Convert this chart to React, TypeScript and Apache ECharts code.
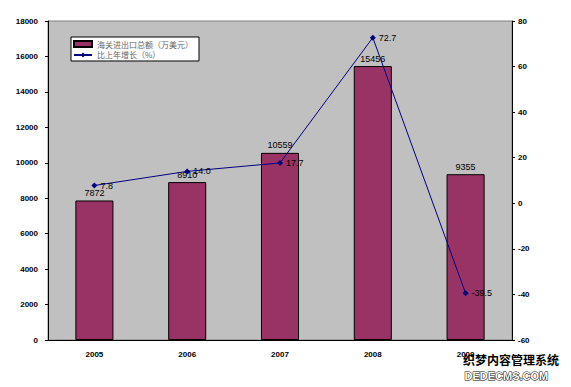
import React, { useEffect, useRef } from "react";
import * as echarts from "echarts";

const categories = ["2005", "2006", "2007", "2008", "2009"];
const tradeTotal = [7872, 8910, 10559, 15456, 9355];
const growth = [7.8, 14.0, 17.7, 72.7, -39.5];
const leftTicks = { min: 0, max: 18000, interval: 2000 };
const rightTicks = { min: -60, max: 80, interval: 20 };
const barName = "海关进出口总额（万美元）";
const lineName = "比上年增长（%）";

export default function App() {
  const ref = useRef<HTMLDivElement>(null);
  useEffect(() => {
    const chart = echarts.init(ref.current!, null, { renderer: "svg" });
    const axisLabel = { fontSize: 8, fontWeight: "bold" as const, color: "#000", fontFamily: "Arial" };
    chart.setOption({
      animation: false,
      backgroundColor: "#fff",
      grid: {
        left: 48, right: 59, top: 21, bottom: 47,
        show: true, backgroundColor: "#c0c0c0", borderColor: "#808080", borderWidth: 1,
      },
      legend: {
        left: 71, top: 37, orient: "vertical", itemGap: 3,
        backgroundColor: "#fff", borderColor: "#000", borderWidth: 1, padding: [3, 6, 2, 2],
        itemWidth: 18, itemHeight: 6,
        textStyle: { fontSize: 8, color: "#666", fontFamily: "Noto Sans CJK SC" },
        data: [
          { name: barName, icon: "rect" },
          { name: lineName },
        ],
      },
      xAxis: {
        type: "category",
        data: categories,
        axisLine: { lineStyle: { color: "#000" } },
        axisTick: { inside: true, length: 3, lineStyle: { color: "#000" } },
        axisLabel: { ...axisLabel, margin: 10 },
      },
      yAxis: [
        {
          type: "value", ...leftTicks,
          axisLine: { show: true, lineStyle: { color: "#000" } },
          axisTick: { show: true, length: 3, lineStyle: { color: "#000" } },
          splitLine: { show: false },
          axisLabel: { ...axisLabel, margin: 10, formatter: (v: number) => String(v) },
        },
        {
          type: "value", ...rightTicks,
          axisLine: { show: true, lineStyle: { color: "#000" } },
          axisTick: { show: true, length: 3, lineStyle: { color: "#000" } },
          splitLine: { show: false },
          axisLabel: { ...axisLabel, margin: 6 },
        },
      ],
      series: [
        {
          name: barName, type: "bar", data: tradeTotal, yAxisIndex: 0, barWidth: "41%",
          itemStyle: { color: "#993366", borderColor: "#000", borderWidth: 1 },
          label: { show: true, position: "top", fontSize: 9, color: "#000", fontFamily: "Arial", distance: 3 },
        },
        {
          name: lineName, type: "line", data: growth, yAxisIndex: 1,
          symbol: "diamond", symbolSize: 6,
          lineStyle: { color: "#000080", width: 1 },
          itemStyle: { color: "#000080" },
          label: { show: true, position: "right", fontSize: 9, color: "#000", fontFamily: "Arial", distance: 3,
            formatter: (p: any) => Number(p.value).toFixed(1) },
        },
      ],
      graphic: [
        {
          type: "text", left: 462, top: 352,
          style: { text: "织梦内容管理系统", fontSize: 12, fontWeight: "bold", fill: "#000", stroke: "#fff", lineWidth: 2, fontFamily: "Noto Sans CJK SC" },
        },
        {
          type: "text", left: 464, top: 370,
          style: { text: "DEDECMS.COM", fontSize: 11, fontWeight: "bold", fill: "#fff", stroke: "#000", lineWidth: 1, fontFamily: "Arial" },
        },
      ],
    });
    return () => chart.dispose();
  }, []);
  return <div ref={ref} style={{ width: 571, height: 387, position: "absolute", left: 0, top: 0 }} />;
}
